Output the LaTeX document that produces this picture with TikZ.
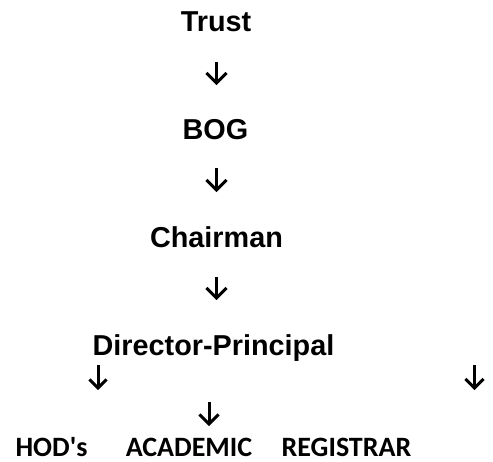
\documentclass[tikz,border=0pt]{standalone}
\usepackage{fontspec}
\setmainfont{Liberation Sans}
\newfontfamily\calfont{Carlito}
\usetikzlibrary{calc}
\newcommand\mkdownarrow[5]{% name, x, ink top, ink tip, half width
  \coordinate (#1t) at (#2,-#3);
  \coordinate (#1b) at (#2,-#4+2.1);
  \draw[arrstroke] (#1t) -- (#1b);
  \draw[arrstroke] ($(#1b)+(-#5+1.5,#5-1.5)$) -- (#1b) -- ($(#1b)+(#5-1.5,#5-1.5)$);
}
\begin{document}
\begin{tikzpicture}[x=1pt,y=1pt,
  toplabel/.style={inner sep=0pt,anchor=base,font=\fontsize{28.8}{30}\selectfont\bfseries},
  botlabel/.style={inner sep=0pt,anchor=base,font=\calfont\fontsize{28}{30}\selectfont\bfseries},
  arrstroke/.style={line width=3pt,line cap=butt,line join=miter,black}]
\useasboundingbox (0,0) rectangle (493,-461);
\node[toplabel] (trust) at (216,-31) {Trust};
\node[toplabel] (bog) at (215.5,-139) {BOG};
\node[toplabel] (chair) at (216.5,-247) {Chairman};
\node[toplabel] (dp) at (213.5,-355) {Director-Principal};
\node[botlabel] (hod) at (51.5,-456) {HOD's};
\node[botlabel] (acad) at (189,-456) {ACADEMIC};
\node[botlabel] (reg) at (346.5,-456) {REGISTRAR};
\mkdownarrow{a1}{216.5}{62}{85}{11.5}
\mkdownarrow{a2}{216.5}{168}{192}{11.5}
\mkdownarrow{a3}{216.5}{277}{300}{11.5}
\mkdownarrow{a4}{98}{365}{390}{10}
\mkdownarrow{a5}{474.5}{365}{390}{10.5}
\mkdownarrow{a6}{209}{402}{426}{11}
\end{tikzpicture}
\end{document}
